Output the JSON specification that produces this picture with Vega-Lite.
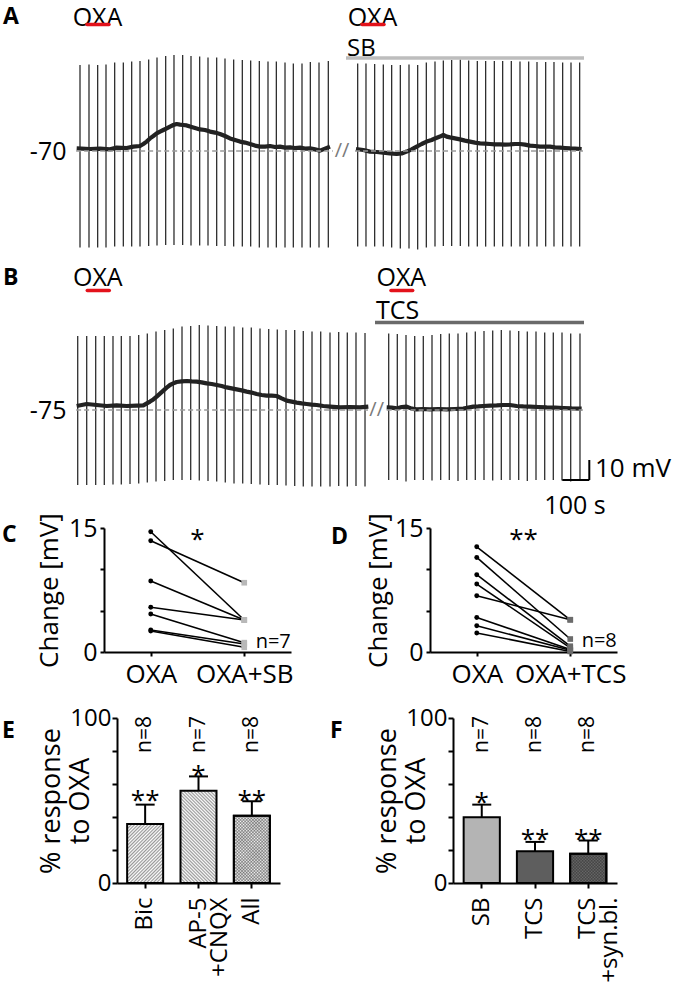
{
 "$schema": "https://vega.github.io/schema/vega-lite/v6.json",
 "padding": 0,
 "background": "white",
 "config": {
  "font": "Open Sans",
  "view": {"stroke": null},
  "axis": {"labelFont": "Open Sans", "titleFont": "Open Sans", "labelColor": "#000", "titleColor": "#000", "domainColor": "#000", "tickColor": "#000", "titleFontWeight": "normal", "grid": false, "labelFlush": false, "labelOverlap": false},
  "title": {"font": "Open Sans", "fontSize": 23, "fontWeight": "bold", "color": "#000", "anchor": "start", "frame": "group", "offset": 0},
  "text": {"font": "Open Sans", "color": "#000"}
 },
 "datasets": {
  "spkAL": [
   {"t": -3.7, "v": -118.2, "v2": -27.0}, {"t": 29.6, "v": -118.2, "v2": -26.7}, {"t": 61.7, "v": -118.2, "v2": -27.0}, {"t": 92.6, "v": -118.2, "v2": -26.7},
   {"t": 124.7, "v": -117.8, "v2": -25.8}, {"t": 156.8, "v": -117.8, "v2": -25.8}, {"t": 187.7, "v": -117.8, "v2": -25.3}, {"t": 218.5, "v": -117.8, "v2": -25.0},
   {"t": 250.6, "v": -117.5, "v2": -24.2}, {"t": 281.5, "v": -117.2, "v2": -23.2}, {"t": 313.6, "v": -117.0, "v2": -22.5}, {"t": 344.4, "v": -117.0, "v2": -22.0},
   {"t": 376.5, "v": -117.0, "v2": -22.0}, {"t": 407.4, "v": -117.2, "v2": -22.5}, {"t": 439.5, "v": -117.2, "v2": -22.8}, {"t": 470.4, "v": -117.3, "v2": -23.2},
   {"t": 502.5, "v": -117.5, "v2": -23.3}, {"t": 533.3, "v": -117.5, "v2": -23.7}, {"t": 565.4, "v": -117.8, "v2": -24.2}, {"t": 597.5, "v": -117.8, "v2": -24.5},
   {"t": 628.4, "v": -117.8, "v2": -24.8}, {"t": 660.5, "v": -118.2, "v2": -25.0}, {"t": 692.6, "v": -118.2, "v2": -25.3}, {"t": 723.5, "v": -118.2, "v2": -25.3},
   {"t": 755.6, "v": -118.2, "v2": -25.8}, {"t": 786.4, "v": -118.3, "v2": -26.2}, {"t": 818.5, "v": -118.3, "v2": -26.2}, {"t": 849.4, "v": -118.3, "v2": -25.5},
   {"t": 881.5, "v": -118.3, "v2": -25.8}, {"t": 916.0, "v": -118.3, "v2": -25.0}
  ],
  "spkAR": [
   {"t": 1024.7, "v": -117.8, "v2": -26.2}, {"t": 1055.5, "v": -117.8, "v2": -26.2}, {"t": 1087.6, "v": -117.8, "v2": -26.5}, {"t": 1119.7, "v": -117.8, "v2": -26.7},
   {"t": 1150.6, "v": -118.2, "v2": -27.0}, {"t": 1182.7, "v": -118.7, "v2": -27.0}, {"t": 1214.8, "v": -118.7, "v2": -26.7}, {"t": 1246.9, "v": -119.2, "v2": -27.0},
   {"t": 1279.0, "v": -118.2, "v2": -25.8}, {"t": 1311.1, "v": -117.8, "v2": -25.3}, {"t": 1342.0, "v": -117.5, "v2": -24.8}, {"t": 1372.8, "v": -117.5, "v2": -24.5},
   {"t": 1404.9, "v": -117.5, "v2": -24.2}, {"t": 1435.8, "v": -117.8, "v2": -24.8}, {"t": 1467.9, "v": -117.8, "v2": -25.0}, {"t": 1498.7, "v": -117.8, "v2": -25.0},
   {"t": 1530.9, "v": -117.8, "v2": -25.0}, {"t": 1561.7, "v": -117.8, "v2": -25.0}, {"t": 1593.8, "v": -117.8, "v2": -25.0}, {"t": 1625.9, "v": -117.8, "v2": -25.3},
   {"t": 1658.0, "v": -117.8, "v2": -25.3}, {"t": 1688.9, "v": -117.8, "v2": -25.5}, {"t": 1721.0, "v": -117.8, "v2": -25.5}, {"t": 1751.8, "v": -117.8, "v2": -25.5},
   {"t": 1783.9, "v": -117.8, "v2": -25.8}, {"t": 1814.8, "v": -117.8, "v2": -25.8}, {"t": 1846.9, "v": -117.8, "v2": -25.8}
  ],
  "spkBL": [
   {"t": -12.2, "v": -112.5, "v2": -38.0}, {"t": 21.1, "v": -112.5, "v2": -38.0}, {"t": 54.4, "v": -112.5, "v2": -38.0}, {"t": 86.3, "v": -112.5, "v2": -38.0},
   {"t": 118.5, "v": -112.3, "v2": -38.0}, {"t": 149.3, "v": -112.3, "v2": -38.0}, {"t": 181.5, "v": -112.0, "v2": -38.0}, {"t": 213.7, "v": -111.7, "v2": -37.5},
   {"t": 245.6, "v": -111.2, "v2": -36.7}, {"t": 277.8, "v": -110.8, "v2": -35.8}, {"t": 310.0, "v": -110.5, "v2": -35.0}, {"t": 341.9, "v": -110.0, "v2": -34.2},
   {"t": 374.1, "v": -110.0, "v2": -33.3}, {"t": 406.3, "v": -110.0, "v2": -33.0}, {"t": 438.1, "v": -110.2, "v2": -32.5}, {"t": 470.4, "v": -110.5, "v2": -32.7},
   {"t": 502.6, "v": -110.8, "v2": -33.0}, {"t": 534.4, "v": -111.2, "v2": -33.3}, {"t": 566.7, "v": -111.7, "v2": -33.3}, {"t": 598.9, "v": -111.7, "v2": -33.7},
   {"t": 630.7, "v": -112.0, "v2": -33.8}, {"t": 663.0, "v": -112.3, "v2": -34.2}, {"t": 695.2, "v": -112.5, "v2": -34.5}, {"t": 727.0, "v": -112.5, "v2": -34.7},
   {"t": 759.3, "v": -112.8, "v2": -35.0}, {"t": 791.5, "v": -113.0, "v2": -35.0}, {"t": 823.3, "v": -113.3, "v2": -35.5}, {"t": 855.6, "v": -113.3, "v2": -35.8},
   {"t": 887.8, "v": -113.3, "v2": -35.8}, {"t": 922.2, "v": -113.3, "v2": -36.2}, {"t": 954.4, "v": -113.0, "v2": -36.0}, {"t": 986.3, "v": -113.3, "v2": -36.2},
   {"t": 1018.5, "v": -113.0, "v2": -36.2}, {"t": 1051.9, "v": -113.3, "v2": -36.5}
  ],
  "spkBR": [
   {"t": 1139.6, "v": -110.0, "v2": -36.7}, {"t": 1171.5, "v": -110.0, "v2": -37.0}, {"t": 1203.7, "v": -110.8, "v2": -37.5}, {"t": 1235.9, "v": -110.0, "v2": -38.0},
   {"t": 1267.8, "v": -110.0, "v2": -38.0}, {"t": 1300.0, "v": -110.3, "v2": -37.5}, {"t": 1332.2, "v": -110.0, "v2": -37.0}, {"t": 1364.1, "v": -110.0, "v2": -36.7},
   {"t": 1396.3, "v": -110.5, "v2": -36.7}, {"t": 1428.5, "v": -110.0, "v2": -36.3}, {"t": 1460.4, "v": -110.0, "v2": -35.8}, {"t": 1492.6, "v": -110.0, "v2": -35.5},
   {"t": 1524.8, "v": -110.3, "v2": -35.3}, {"t": 1556.7, "v": -110.0, "v2": -35.0}, {"t": 1588.9, "v": -110.0, "v2": -35.3}, {"t": 1621.1, "v": -110.0, "v2": -35.5},
   {"t": 1653.0, "v": -110.5, "v2": -35.8}, {"t": 1685.2, "v": -110.0, "v2": -35.8}, {"t": 1717.4, "v": -110.0, "v2": -36.3}, {"t": 1749.3, "v": -110.0, "v2": -36.3},
   {"t": 1781.5, "v": -110.3, "v2": -36.3}, {"t": 1813.7, "v": -110.8, "v2": -36.7}, {"t": 1848.1, "v": -110.0, "v2": -36.7}
  ],
  "vmAL": [
   {"t": -16, "v": -68.7}, {"t": 33.3, "v": -69.0}, {"t": 70.4, "v": -68.8}, {"t": 107.4, "v": -69.2}, {"t": 132.1, "v": -68.3}, {"t": 169.1, "v": -68.5},
   {"t": 193.8, "v": -67.8}, {"t": 218.5, "v": -67.5}, {"t": 230.9, "v": -66.5}, {"t": 243.2, "v": -65.3}, {"t": 255.6, "v": -63.7}, {"t": 267.9, "v": -62.5},
   {"t": 280.2, "v": -61.2}, {"t": 292.6, "v": -60.3}, {"t": 304.9, "v": -59.5}, {"t": 317.3, "v": -58.7}, {"t": 329.6, "v": -57.8}, {"t": 341.9, "v": -57.0},
   {"t": 354.3, "v": -56.5}, {"t": 366.7, "v": -56.8}, {"t": 379.0, "v": -57.0}, {"t": 391.4, "v": -57.2}, {"t": 403.7, "v": -57.8}, {"t": 422.2, "v": -58.5},
   {"t": 440.7, "v": -59.2}, {"t": 459.3, "v": -59.5}, {"t": 477.8, "v": -60.3}, {"t": 496.3, "v": -60.8}, {"t": 514.8, "v": -61.5}, {"t": 533.3, "v": -62.5},
   {"t": 551.9, "v": -63.7}, {"t": 570.4, "v": -64.5}, {"t": 588.9, "v": -65.3}, {"t": 607.4, "v": -65.8}, {"t": 625.9, "v": -66.5}, {"t": 644.4, "v": -67.3},
   {"t": 663.0, "v": -67.8}, {"t": 681.5, "v": -67.8}, {"t": 700.0, "v": -67.5}, {"t": 718.5, "v": -68.0}, {"t": 737.0, "v": -67.8}, {"t": 755.6, "v": -68.3},
   {"t": 774.1, "v": -68.2}, {"t": 792.6, "v": -68.5}, {"t": 811.1, "v": -68.3}, {"t": 829.6, "v": -68.8}, {"t": 848.1, "v": -68.7}, {"t": 866.7, "v": -69.2},
   {"t": 885.2, "v": -69.8}, {"t": 903.7, "v": -68.8}, {"t": 922.2, "v": -67.8}
  ],
  "vmAR": [
   {"t": 1018.5, "v": -69.0}, {"t": 1045.7, "v": -69.5}, {"t": 1070.3, "v": -70.3}, {"t": 1095.1, "v": -70.5}, {"t": 1119.7, "v": -70.8}, {"t": 1144.4, "v": -71.2},
   {"t": 1169.1, "v": -71.5}, {"t": 1187.6, "v": -71.2}, {"t": 1206.2, "v": -70.3}, {"t": 1224.7, "v": -69.2}, {"t": 1243.2, "v": -67.8}, {"t": 1261.7, "v": -66.5},
   {"t": 1280.2, "v": -65.3}, {"t": 1298.7, "v": -64.5}, {"t": 1311.1, "v": -63.7}, {"t": 1329.6, "v": -62.8}, {"t": 1342.0, "v": -62.0}, {"t": 1354.3, "v": -62.8},
   {"t": 1366.7, "v": -63.2}, {"t": 1385.2, "v": -63.7}, {"t": 1403.7, "v": -64.2}, {"t": 1422.2, "v": -64.8}, {"t": 1440.7, "v": -65.3}, {"t": 1459.3, "v": -65.8},
   {"t": 1477.8, "v": -66.2}, {"t": 1496.3, "v": -66.3}, {"t": 1514.8, "v": -66.5}, {"t": 1533.3, "v": -66.7}, {"t": 1551.9, "v": -66.7}, {"t": 1570.4, "v": -66.8},
   {"t": 1588.9, "v": -66.7}, {"t": 1607.4, "v": -66.5}, {"t": 1625.9, "v": -66.5}, {"t": 1644.4, "v": -66.8}, {"t": 1662.9, "v": -67.3}, {"t": 1681.5, "v": -67.5},
   {"t": 1700.0, "v": -67.8}, {"t": 1718.5, "v": -67.8}, {"t": 1737.0, "v": -67.8}, {"t": 1755.5, "v": -68.2}, {"t": 1774.1, "v": -68.3}, {"t": 1792.6, "v": -68.5},
   {"t": 1811.1, "v": -68.7}, {"t": 1829.6, "v": -68.8}, {"t": 1854.3, "v": -69.0}
  ],
  "vmBL": [
   {"t": -16, "v": -73.0}, {"t": 21.0, "v": -72.0}, {"t": 58.0, "v": -72.5}, {"t": 95.1, "v": -73.0}, {"t": 132.1, "v": -72.7}, {"t": 169.1, "v": -73.0},
   {"t": 206.2, "v": -72.8}, {"t": 230.9, "v": -72.7}, {"t": 255.6, "v": -70.8}, {"t": 267.9, "v": -69.7}, {"t": 280.2, "v": -68.3}, {"t": 292.6, "v": -66.8},
   {"t": 304.9, "v": -65.3}, {"t": 317.3, "v": -63.8}, {"t": 329.6, "v": -62.5}, {"t": 341.9, "v": -61.7}, {"t": 354.3, "v": -61.0}, {"t": 372.8, "v": -60.7},
   {"t": 391.4, "v": -60.5}, {"t": 409.9, "v": -60.7}, {"t": 428.4, "v": -60.8}, {"t": 446.9, "v": -61.2}, {"t": 465.4, "v": -61.7}, {"t": 484.0, "v": -62.0},
   {"t": 502.5, "v": -62.5}, {"t": 521.0, "v": -63.0}, {"t": 539.5, "v": -63.7}, {"t": 558.0, "v": -64.2}, {"t": 576.5, "v": -64.7}, {"t": 595.1, "v": -65.2},
   {"t": 613.6, "v": -65.8}, {"t": 632.1, "v": -66.3}, {"t": 650.6, "v": -67.0}, {"t": 669.1, "v": -67.5}, {"t": 687.7, "v": -67.8}, {"t": 706.2, "v": -67.8},
   {"t": 724.7, "v": -68.0}, {"t": 743.2, "v": -69.2}, {"t": 761.7, "v": -70.3}, {"t": 780.2, "v": -70.8}, {"t": 798.8, "v": -71.3}, {"t": 817.3, "v": -71.7},
   {"t": 835.8, "v": -72.0}, {"t": 854.3, "v": -72.3}, {"t": 872.8, "v": -72.5}, {"t": 897.5, "v": -73.0}, {"t": 922.2, "v": -73.3}, {"t": 959.3, "v": -73.7},
   {"t": 996.3, "v": -73.5}, {"t": 1033.3, "v": -73.7}, {"t": 1064.2, "v": -73.3}
  ],
  "vmBR": [
   {"t": 1132.2, "v": -73.7}, {"t": 1150.6, "v": -73.8}, {"t": 1169.1, "v": -74.2}, {"t": 1187.6, "v": -73.5}, {"t": 1206.2, "v": -73.3}, {"t": 1224.7, "v": -74.3},
   {"t": 1243.2, "v": -74.7}, {"t": 1267.9, "v": -74.5}, {"t": 1292.6, "v": -74.7}, {"t": 1323.5, "v": -74.5}, {"t": 1354.3, "v": -74.7}, {"t": 1385.2, "v": -74.5},
   {"t": 1416.0, "v": -74.3}, {"t": 1434.6, "v": -73.8}, {"t": 1453.0, "v": -73.3}, {"t": 1471.6, "v": -73.2}, {"t": 1490.1, "v": -73.0}, {"t": 1514.8, "v": -72.8},
   {"t": 1539.5, "v": -72.7}, {"t": 1564.2, "v": -72.5}, {"t": 1588.9, "v": -72.5}, {"t": 1613.6, "v": -73.0}, {"t": 1638.3, "v": -73.2}, {"t": 1663.0, "v": -73.3},
   {"t": 1693.8, "v": -73.5}, {"t": 1724.7, "v": -73.7}, {"t": 1755.6, "v": -73.8}, {"t": 1786.4, "v": -74.0}, {"t": 1817.3, "v": -74.2}, {"t": 1854.3, "v": -74.3}
  ],
  "pairC": [
   {"id": 1, "x": 0, "v": 14.55}, {"id": 1, "x": 1, "v": 3.87},
   {"id": 2, "x": 0, "v": 13.46}, {"id": 2, "x": 1, "v": 8.38},
   {"id": 3, "x": 0, "v": 8.59}, {"id": 3, "x": 1, "v": 3.87},
   {"id": 4, "x": 0, "v": 5.41}, {"id": 4, "x": 1, "v": 3.87},
   {"id": 5, "x": 0, "v": 4.60}, {"id": 5, "x": 1, "v": 1.13},
   {"id": 6, "x": 0, "v": 2.66}, {"id": 6, "x": 1, "v": 0.97},
   {"id": 7, "x": 0, "v": 2.54}, {"id": 7, "x": 1, "v": 0.57}
  ],
  "pairD": [
   {"id": 1, "x": 0, "v": 12.73}, {"id": 1, "x": 1, "v": 3.9},
   {"id": 2, "x": 0, "v": 11.44}, {"id": 2, "x": 1, "v": 1.57},
   {"id": 3, "x": 0, "v": 9.35}, {"id": 3, "x": 1, "v": 0.7},
   {"id": 4, "x": 0, "v": 8.22}, {"id": 4, "x": 1, "v": 0.5},
   {"id": 5, "x": 0, "v": 6.81}, {"id": 5, "x": 1, "v": 3.9},
   {"id": 6, "x": 0, "v": 4.18}, {"id": 6, "x": 1, "v": 0.3},
   {"id": 7, "x": 0, "v": 3.18}, {"id": 7, "x": 1, "v": 0.2},
   {"id": 8, "x": 0, "v": 2.30}, {"id": 8, "x": 1, "v": 0.07}
  ],
  "barE": [
   {"cond": "Bic", "p": 35.8, "hi": 47.5},
   {"cond": "AP-5|+CNQX", "p": 55.9, "hi": 64.6},
   {"cond": "All", "p": 40.8, "hi": 49.5}
  ],
  "capE": [
   {"cond": "Bic", "p": 47.5}, {"cond": "AP-5|+CNQX", "p": 64.6}, {"cond": "All", "p": 49.5}
  ],
  "starE": [
   {"cond": "Bic", "p": 49.9, "star": "**"}, {"cond": "AP-5|+CNQX", "p": 65.0, "star": "*"}, {"cond": "All", "p": 49.9, "star": "**"}
  ],
  "nE": [
   {"cond": "Bic", "p": 90, "n": "n=8"}, {"cond": "AP-5|+CNQX", "p": 90, "n": "n=7"}, {"cond": "All", "p": 90, "n": "n=8"}
  ],
  "barF": [
   {"cond": "SB", "p": 39.8, "hi": 47.5},
   {"cond": "TCS", "p": 19.2, "hi": 24.9},
   {"cond": "TCS|+syn.bl.", "p": 17.8, "hi": 25.8}
  ],
  "capF": [
   {"cond": "SB", "p": 47.5}, {"cond": "TCS", "p": 24.9}, {"cond": "TCS|+syn.bl.", "p": 25.8}
  ],
  "starF": [
   {"cond": "SB", "p": 48.4, "star": "*"}, {"cond": "TCS", "p": 26.2, "star": "**"}, {"cond": "TCS|+syn.bl.", "p": 26.2, "star": "**"}
  ],
  "nF": [
   {"cond": "SB", "p": 90, "n": "n=7"}, {"cond": "TCS", "p": 90, "n": "n=8"}, {"cond": "TCS|+syn.bl.", "p": 90, "n": "n=8"}
  ]
 },
 "columns": 2,
 "spacing": {"row": 66, "column": 1},
 "bounds": "flush",
 "align": "each",
 "resolve": {"scale": {"fill": "independent", "color": "independent"}},
 "concat": [
  {
   "width": 333, "height": 230,
   "encoding": {
    "x": {"field": "t", "type": "quantitative", "scale": {"domain": [-300, 933.33], "nice": false, "zero": false}, "axis": null},
    "y": {"field": "v", "type": "quantitative", "scale": {"domain": [-109.5, 5.5], "nice": false, "zero": false},
          "axis": {"values": [-70], "labelExpr": "'-70'", "domain": false, "ticks": false, "labelFontSize": 25, "labelPadding": 11, "title": null, "offset": -77}}
   },
   "layer": [
    {"data": {"name": "spkAL"}, "mark": {"type": "rule", "color": "#2e2e2e", "strokeWidth": 1.3}, "encoding": {"y2": {"field": "v2"}}},
    {"data": {"name": "vmAL"}, "mark": {"type": "line", "color": "#222", "strokeWidth": 4.2, "strokeJoin": "round"}},
    {"data": {"values": [{"t": -18, "t2": 933, "v": -70}]}, "mark": {"type": "rule", "color": "#9a9a9a", "strokeWidth": 1.5, "strokeDash": [5, 3]}, "encoding": {"x2": {"field": "t2"}}},
    {"data": {"values": [{"t": 61, "v": -3.3, "label": "OXA"}]}, "mark": {"type": "text", "fontSize": 25, "baseline": "middle"}, "encoding": {"text": {"field": "label"}}},
    {"data": {"values": [{"t": -288.9, "v": -3.0, "label": "A"}]}, "mark": {"type": "text", "fontSize": 23, "fontWeight": "bold", "baseline": "middle", "align": "left"}, "encoding": {"text": {"field": "label"}}},
    {"data": {"values": [{"t": 22.2, "t2": 103.7, "v": -6.8}]}, "mark": {"type": "rule", "color": "#e3121b", "strokeWidth": 3.5, "strokeCap": "round"}, "encoding": {"x2": {"field": "t2"}}}
   ]
  },
  {
   "width": 256, "height": 230,
   "encoding": {
    "x": {"field": "t", "type": "quantitative", "scale": {"domain": [937.04, 1885.19], "nice": false, "zero": false}, "axis": null},
    "y": {"field": "v", "type": "quantitative", "scale": {"domain": [-109.5, 5.5], "nice": false, "zero": false}, "axis": null}
   },
   "layer": [
    {"data": {"name": "spkAR"}, "mark": {"type": "rule", "color": "#2e2e2e", "strokeWidth": 1.3}, "encoding": {"y2": {"field": "v2"}}},
    {"data": {"name": "vmAR"}, "mark": {"type": "line", "color": "#222", "strokeWidth": 4.2, "strokeJoin": "round"}},
    {"data": {"values": [{"t": 1014.8, "t2": 1859.3, "v": -70}]}, "mark": {"type": "rule", "color": "#9a9a9a", "strokeWidth": 1.5, "strokeDash": [5, 3]}, "encoding": {"x2": {"field": "t2"}}},
    {"data": {"values": [{"t": 966.7, "v": -70, "label": "//"}]}, "mark": {"type": "text", "fontSize": 20, "baseline": "middle", "color": "#7a7a7a"}, "encoding": {"text": {"field": "label"}}},
    {"data": {"values": [{"t": 1079.6, "v": -3.3, "label": "OXA"}]}, "mark": {"type": "text", "fontSize": 25, "baseline": "middle"}, "encoding": {"text": {"field": "label"}}},
    {"data": {"values": [{"t": 985.2, "v": -19.0, "label": "SB"}]}, "mark": {"type": "text", "fontSize": 24, "baseline": "middle", "align": "left"}, "encoding": {"text": {"field": "label"}}},
    {"data": {"values": [{"t": 1040.7, "t2": 1122.2, "v": -6.8}]}, "mark": {"type": "rule", "color": "#e3121b", "strokeWidth": 3.5, "strokeCap": "round"}, "encoding": {"x2": {"field": "t2"}}},
    {"data": {"values": [{"t": 981.5, "t2": 1863, "v": -23.5}]}, "mark": {"type": "rule", "color": "#bdbdbd", "strokeWidth": 3.5}, "encoding": {"x2": {"field": "t2"}}}
   ]
  },
  {
   "width": 333, "height": 166,
   "encoding": {
    "x": {"field": "t", "type": "quantitative", "scale": {"domain": [-300, 933.33], "nice": false, "zero": false}, "axis": null},
    "y": {"field": "v", "type": "quantitative", "scale": {"domain": [-101, -18], "nice": false, "zero": false},
          "axis": {"values": [-75], "labelExpr": "'-75'", "domain": false, "ticks": false, "labelFontSize": 25, "labelPadding": 11, "title": null, "offset": -77}}
   },
   "layer": [
    {"data": {"name": "spkBL"}, "mark": {"type": "rule", "color": "#2e2e2e", "strokeWidth": 1.3}, "encoding": {"y2": {"field": "v2"}}},
    {"data": {"name": "vmBL"}, "mark": {"type": "line", "color": "#222", "strokeWidth": 4.2, "strokeJoin": "round"}},
    {"data": {"values": [{"t": -18, "t2": 1063, "v": -75}]}, "mark": {"type": "rule", "color": "#9a9a9a", "strokeWidth": 1.5, "strokeDash": [5, 3]}, "encoding": {"x2": {"field": "t2"}}},
    {"data": {"values": [{"t": 62.2, "v": -9.2, "label": "OXA"}]}, "mark": {"type": "text", "fontSize": 25, "baseline": "middle"}, "encoding": {"text": {"field": "label"}}},
    {"data": {"values": [{"t": -288.9, "v": -9.15, "label": "B"}]}, "mark": {"type": "text", "fontSize": 23, "fontWeight": "bold", "baseline": "middle", "align": "left"}, "encoding": {"text": {"field": "label"}}},
    {"data": {"values": [{"t": 23.3, "t2": 104.8, "v": -15.3}]}, "mark": {"type": "rule", "color": "#e3121b", "strokeWidth": 3.5, "strokeCap": "round"}, "encoding": {"x2": {"field": "t2"}}}
   ]
  },
  {
   "width": 270, "height": 166,
   "encoding": {
    "x": {"field": "t", "type": "quantitative", "scale": {"domain": [937.04, 1937.04], "nice": false, "zero": false}, "axis": null},
    "y": {"field": "v", "type": "quantitative", "scale": {"domain": [-101, -18], "nice": false, "zero": false}, "axis": null}
   },
   "layer": [
    {"data": {"name": "spkBR"}, "mark": {"type": "rule", "color": "#2e2e2e", "strokeWidth": 1.3}, "encoding": {"y2": {"field": "v2"}}},
    {"data": {"name": "vmBR"}, "mark": {"type": "line", "color": "#222", "strokeWidth": 4.2, "strokeJoin": "round"}},
    {"data": {"values": [{"t": 1132, "t2": 1859, "v": -75}]}, "mark": {"type": "rule", "color": "#9a9a9a", "strokeWidth": 1.5, "strokeDash": [5, 3]}, "encoding": {"x2": {"field": "t2"}}},
    {"data": {"values": [{"t": 1095, "v": -75, "label": "//"}]}, "mark": {"type": "text", "fontSize": 20, "baseline": "middle", "color": "#7a7a7a"}, "encoding": {"text": {"field": "label"}}},
    {"data": {"values": [{"t": 1186.4, "v": -9.2, "label": "OXA"}]}, "mark": {"type": "text", "fontSize": 25, "baseline": "middle"}, "encoding": {"text": {"field": "label"}}},
    {"data": {"values": [{"t": 1092.6, "v": -25.7, "label": "TCS"}]}, "mark": {"type": "text", "fontSize": 25, "baseline": "middle", "align": "left"}, "encoding": {"text": {"field": "label"}}},
    {"data": {"values": [{"t": 1148, "t2": 1228.5, "v": -15.3}]}, "mark": {"type": "rule", "color": "#e3121b", "strokeWidth": 3.5, "strokeCap": "round"}, "encoding": {"x2": {"field": "t2"}}},
    {"data": {"values": [{"t": 1088.9, "t2": 1863, "v": -31.3}]}, "mark": {"type": "rule", "color": "#6a6a6a", "strokeWidth": 3.5}, "encoding": {"x2": {"field": "t2"}}},
    {"data": {"values": [{"t": 1882.6, "t2": 1882.6, "v": -100, "v2": -110}, {"t": 1782.6, "t2": 1882.6, "v": -110, "v2": -110}]}, "mark": {"type": "rule", "color": "#000", "strokeWidth": 2}, "encoding": {"x2": {"field": "t2"}, "y2": {"field": "v2"}}},
    {"data": {"values": [{"t": 1903.7, "v": -104.7, "label": "10 mV"}]}, "mark": {"type": "text", "fontSize": 26, "baseline": "middle", "align": "left"}, "encoding": {"text": {"field": "label"}}},
    {"data": {"values": [{"t": 1829.6, "v": -123.2, "label": "100 s"}]}, "mark": {"type": "text", "fontSize": 25, "baseline": "middle", "align": "center"}, "encoding": {"text": {"field": "label"}}}
   ]
  },
  {
   "width": 333, "height": 124,
   "data": {"name": "pairC"},
   "encoding": {
    "x": {"field": "x", "type": "quantitative", "scale": {"domain": [-0.5, 1.5], "range": [104, 291], "nice": false, "zero": false},
          "axis": {"values": [0, 1], "labelExpr": "datum.value == 0 ? 'OXA' : 'OXA+SB'", "title": null, "labelFontSize": 26, "tickSize": 4, "tickWidth": 2, "domainWidth": 2, "labelPadding": 5}},
    "y": {"field": "v", "type": "quantitative", "scale": {"domain": [0, 15], "nice": false},
          "axis": {"values": [0, 5, 10, 15], "labelExpr": "datum.value == 0 || datum.value == 15 ? datum.label : ''", "title": "Change [mV]", "titleFontSize": 26, "titlePadding": 6, "labelFontSize": 25, "tickSize": 4, "tickWidth": 2, "domainWidth": 2, "labelPadding": 3, "offset": -104}}
   },
   "layer": [
    {"mark": {"type": "line", "color": "#000", "strokeWidth": 1.6}, "encoding": {"detail": {"field": "id", "type": "nominal"}}},
    {"transform": [{"filter": "datum.x == 0"}], "mark": {"type": "circle", "color": "#000", "size": 24, "opacity": 1}},
    {"transform": [{"filter": "datum.x == 1"}], "mark": {"type": "square", "color": "#b8b8b8", "size": 32, "opacity": 1}},
    {"data": {"values": [{"x": 0.5, "v": 13.6, "label": "*"}]}, "mark": {"type": "text", "fontSize": 26, "baseline": "middle"}, "encoding": {"text": {"field": "label"}}},
    {"data": {"values": [{"x": 1.31, "v": 1.25, "label": "n=7"}]}, "mark": {"type": "text", "fontSize": 20, "baseline": "middle"}, "encoding": {"text": {"field": "label"}}},
    {"data": {"values": [{"x": -1.591, "v": 14.1, "label": "C"}]}, "mark": {"type": "text", "fontSize": 23, "fontWeight": "bold", "baseline": "middle", "align": "left"}, "encoding": {"text": {"field": "label"}}}
   ]
  },
  {
   "width": 283, "height": 124,
   "data": {"name": "pairD"},
   "encoding": {
    "x": {"field": "x", "type": "quantitative", "scale": {"domain": [-0.5, 1.5], "range": [96, 283], "nice": false, "zero": false},
          "axis": {"values": [0, 1], "labelExpr": "datum.value == 0 ? 'OXA' : 'OXA+TCS'", "title": null, "labelFontSize": 26, "tickSize": 4, "tickWidth": 2, "domainWidth": 2, "labelPadding": 5}},
    "y": {"field": "v", "type": "quantitative", "scale": {"domain": [0, 15], "nice": false},
          "axis": {"values": [0, 5, 10, 15], "labelExpr": "datum.value == 0 || datum.value == 15 ? datum.label : ''", "title": "Change [mV]", "titleFontSize": 26, "titlePadding": 3, "labelFontSize": 25, "tickSize": 4, "tickWidth": 2, "domainWidth": 2, "labelPadding": 3, "offset": -96}}
   },
   "layer": [
    {"mark": {"type": "line", "color": "#000", "strokeWidth": 1.6}, "encoding": {"detail": {"field": "id", "type": "nominal"}}},
    {"transform": [{"filter": "datum.x == 0"}], "mark": {"type": "circle", "color": "#000", "size": 24, "opacity": 1}},
    {"transform": [{"filter": "datum.x == 1"}], "mark": {"type": "square", "color": "#6b6b6b", "size": 32, "opacity": 1}},
    {"data": {"values": [{"x": 0.5, "v": 13.6, "label": "**"}]}, "mark": {"type": "text", "fontSize": 26, "baseline": "middle"}, "encoding": {"text": {"field": "label"}}},
    {"data": {"values": [{"x": 1.31, "v": 1.28, "label": "n=8"}]}, "mark": {"type": "text", "fontSize": 20, "baseline": "middle"}, "encoding": {"text": {"field": "label"}}},
    {"data": {"values": [{"x": -1.559, "v": 13.97, "label": "D"}]}, "mark": {"type": "text", "fontSize": 23, "fontWeight": "bold", "baseline": "middle", "align": "left"}, "encoding": {"text": {"field": "label"}}}
   ]
  },
  {
   "width": 333, "height": 165,
   "title": {"text": "E", "dx": 2, "dy": 41},
   "encoding": {
    "x": {"field": "cond", "type": "nominal", "sort": ["Bic", "AP-5|+CNQX", "All"], "scale": {"range": [117, 280], "paddingInner": 0.325, "paddingOuter": 0.19},
          "axis": {"title": null, "labelAngle": 270, "labelFontSize": 24, "labelExpr": "split(datum.label, '|')", "labelLineHeight": 21, "tickSize": 5, "tickWidth": 2, "domainWidth": 2, "labelPadding": 9}},
    "y": {"field": "p", "type": "quantitative", "scale": {"domain": [0, 100], "nice": false},
          "axis": {"values": [0, 20, 40, 60, 80, 100], "labelExpr": "datum.value == 0 || datum.value == 100 ? datum.label : ''", "title": ["% response", "to OXA"], "titleFontSize": 27, "titleLineHeight": 29, "titlePadding": -25, "labelFontSize": 24, "tickSize": 5, "tickWidth": 2, "domainWidth": 2, "labelPadding": 1, "offset": -117}}
   },
   "layer": [
    {"data": {"name": "barE"}, "transform": [{"filter": "datum.cond == 'Bic'"}],
     "mark": {"type": "bar", "stroke": "#000", "strokeWidth": 2,
      "fill": {"gradient": "linear", "x1": 0, "y1": 0, "x2": 0.7156, "y2": 1.1735, "stops": [
       {"offset": 0, "color": "#fff"}, {"offset": 0.0175, "color": "#999"}, {"offset": 0.035, "color": "#fff"}, {"offset": 0.0525, "color": "#999"}, {"offset": 0.07, "color": "#fff"}, {"offset": 0.0875, "color": "#999"},
       {"offset": 0.105, "color": "#fff"}, {"offset": 0.1225, "color": "#999"}, {"offset": 0.14, "color": "#fff"}, {"offset": 0.1575, "color": "#999"}, {"offset": 0.175, "color": "#fff"}, {"offset": 0.1925, "color": "#999"},
       {"offset": 0.21, "color": "#fff"}, {"offset": 0.2275, "color": "#999"}, {"offset": 0.245, "color": "#fff"}, {"offset": 0.2625, "color": "#999"}, {"offset": 0.28, "color": "#fff"}, {"offset": 0.2975, "color": "#999"},
       {"offset": 0.315, "color": "#fff"}, {"offset": 0.3325, "color": "#999"}, {"offset": 0.35, "color": "#fff"}, {"offset": 0.3675, "color": "#999"}, {"offset": 0.385, "color": "#fff"}, {"offset": 0.4025, "color": "#999"},
       {"offset": 0.42, "color": "#fff"}, {"offset": 0.4375, "color": "#999"}, {"offset": 0.455, "color": "#fff"}, {"offset": 0.4725, "color": "#999"}, {"offset": 0.49, "color": "#fff"}, {"offset": 0.5075, "color": "#999"},
       {"offset": 0.525, "color": "#fff"}, {"offset": 0.5425, "color": "#999"}, {"offset": 0.56, "color": "#fff"}, {"offset": 0.5775, "color": "#999"}, {"offset": 0.595, "color": "#fff"}, {"offset": 0.6125, "color": "#999"},
       {"offset": 0.63, "color": "#fff"}, {"offset": 0.6475, "color": "#999"}, {"offset": 0.665, "color": "#fff"}, {"offset": 0.6825, "color": "#999"}, {"offset": 0.7, "color": "#fff"}, {"offset": 0.7175, "color": "#999"},
       {"offset": 0.735, "color": "#fff"}, {"offset": 0.7525, "color": "#999"}, {"offset": 0.77, "color": "#fff"}, {"offset": 0.7875, "color": "#999"}, {"offset": 0.805, "color": "#fff"}, {"offset": 0.8225, "color": "#999"},
       {"offset": 0.84, "color": "#fff"}, {"offset": 0.8575, "color": "#999"}, {"offset": 0.875, "color": "#fff"}, {"offset": 0.8925, "color": "#999"}, {"offset": 0.91, "color": "#fff"}, {"offset": 0.9275, "color": "#999"},
       {"offset": 0.945, "color": "#fff"}, {"offset": 0.9625, "color": "#999"}, {"offset": 0.98, "color": "#fff"}, {"offset": 0.9975, "color": "#999"}
      ]}}},
    {"data": {"name": "barE"}, "transform": [{"filter": "datum.cond == 'AP-5|+CNQX'"}],
     "mark": {"type": "bar", "stroke": "#000", "strokeWidth": 2,
      "fill": {"gradient": "linear", "x1": 0, "y1": 1, "x2": 0.4711, "y2": -0.2065, "stops": [
       {"offset": 0, "color": "#fff"}, {"offset": 0.013, "color": "#999"}, {"offset": 0.026, "color": "#fff"}, {"offset": 0.039, "color": "#999"}, {"offset": 0.052, "color": "#fff"}, {"offset": 0.065, "color": "#999"},
       {"offset": 0.078, "color": "#fff"}, {"offset": 0.091, "color": "#999"}, {"offset": 0.104, "color": "#fff"}, {"offset": 0.117, "color": "#999"}, {"offset": 0.13, "color": "#fff"}, {"offset": 0.143, "color": "#999"},
       {"offset": 0.156, "color": "#fff"}, {"offset": 0.169, "color": "#999"}, {"offset": 0.182, "color": "#fff"}, {"offset": 0.195, "color": "#999"}, {"offset": 0.208, "color": "#fff"}, {"offset": 0.221, "color": "#999"},
       {"offset": 0.234, "color": "#fff"}, {"offset": 0.247, "color": "#999"}, {"offset": 0.26, "color": "#fff"}, {"offset": 0.273, "color": "#999"}, {"offset": 0.286, "color": "#fff"}, {"offset": 0.299, "color": "#999"},
       {"offset": 0.312, "color": "#fff"}, {"offset": 0.325, "color": "#999"}, {"offset": 0.338, "color": "#fff"}, {"offset": 0.351, "color": "#999"}, {"offset": 0.364, "color": "#fff"}, {"offset": 0.377, "color": "#999"},
       {"offset": 0.39, "color": "#fff"}, {"offset": 0.403, "color": "#999"}, {"offset": 0.416, "color": "#fff"}, {"offset": 0.429, "color": "#999"}, {"offset": 0.442, "color": "#fff"}, {"offset": 0.455, "color": "#999"},
       {"offset": 0.468, "color": "#fff"}, {"offset": 0.481, "color": "#999"}, {"offset": 0.494, "color": "#fff"}, {"offset": 0.507, "color": "#999"}, {"offset": 0.52, "color": "#fff"}, {"offset": 0.533, "color": "#999"},
       {"offset": 0.546, "color": "#fff"}, {"offset": 0.559, "color": "#999"}, {"offset": 0.572, "color": "#fff"}, {"offset": 0.585, "color": "#999"}, {"offset": 0.598, "color": "#fff"}, {"offset": 0.611, "color": "#999"},
       {"offset": 0.624, "color": "#fff"}, {"offset": 0.637, "color": "#999"}, {"offset": 0.65, "color": "#fff"}, {"offset": 0.663, "color": "#999"}, {"offset": 0.676, "color": "#fff"}, {"offset": 0.689, "color": "#999"},
       {"offset": 0.702, "color": "#fff"}, {"offset": 0.715, "color": "#999"}, {"offset": 0.728, "color": "#fff"}, {"offset": 0.741, "color": "#999"}, {"offset": 0.754, "color": "#fff"}, {"offset": 0.767, "color": "#999"},
       {"offset": 0.78, "color": "#fff"}, {"offset": 0.793, "color": "#999"}, {"offset": 0.806, "color": "#fff"}, {"offset": 0.819, "color": "#999"}, {"offset": 0.832, "color": "#fff"}, {"offset": 0.845, "color": "#999"},
       {"offset": 0.858, "color": "#fff"}, {"offset": 0.871, "color": "#999"}, {"offset": 0.884, "color": "#fff"}, {"offset": 0.897, "color": "#999"}, {"offset": 0.91, "color": "#fff"}, {"offset": 0.923, "color": "#999"},
       {"offset": 0.936, "color": "#fff"}, {"offset": 0.949, "color": "#999"}, {"offset": 0.962, "color": "#fff"}, {"offset": 0.975, "color": "#999"}, {"offset": 0.988, "color": "#fff"}
      ]}}},
    {"data": {"name": "barE"}, "transform": [{"filter": "datum.cond == 'All'"}], "mark": {"type": "bar", "fill": "#ffffff", "stroke": "#000", "strokeWidth": 2}},
    {"data": {"name": "barE"}, "transform": [{"filter": "datum.cond == 'All'"}],
     "mark": {"type": "bar", "strokeWidth": 0,
      "fill": {"gradient": "linear", "x1": 0, "y1": 0, "x2": 0.6385, "y2": 1.1934, "stops": [
       {"offset": 0, "color": "rgba(40,40,40,0)"}, {"offset": 0.015, "color": "rgba(40,40,40,0.42)"}, {"offset": 0.03, "color": "rgba(40,40,40,0)"}, {"offset": 0.045, "color": "rgba(40,40,40,0.42)"}, {"offset": 0.06, "color": "rgba(40,40,40,0)"}, {"offset": 0.075, "color": "rgba(40,40,40,0.42)"},
       {"offset": 0.09, "color": "rgba(40,40,40,0)"}, {"offset": 0.105, "color": "rgba(40,40,40,0.42)"}, {"offset": 0.12, "color": "rgba(40,40,40,0)"}, {"offset": 0.135, "color": "rgba(40,40,40,0.42)"}, {"offset": 0.15, "color": "rgba(40,40,40,0)"}, {"offset": 0.165, "color": "rgba(40,40,40,0.42)"},
       {"offset": 0.18, "color": "rgba(40,40,40,0)"}, {"offset": 0.195, "color": "rgba(40,40,40,0.42)"}, {"offset": 0.21, "color": "rgba(40,40,40,0)"}, {"offset": 0.225, "color": "rgba(40,40,40,0.42)"}, {"offset": 0.24, "color": "rgba(40,40,40,0)"}, {"offset": 0.255, "color": "rgba(40,40,40,0.42)"},
       {"offset": 0.27, "color": "rgba(40,40,40,0)"}, {"offset": 0.285, "color": "rgba(40,40,40,0.42)"}, {"offset": 0.3, "color": "rgba(40,40,40,0)"}, {"offset": 0.315, "color": "rgba(40,40,40,0.42)"}, {"offset": 0.33, "color": "rgba(40,40,40,0)"}, {"offset": 0.345, "color": "rgba(40,40,40,0.42)"},
       {"offset": 0.36, "color": "rgba(40,40,40,0)"}, {"offset": 0.375, "color": "rgba(40,40,40,0.42)"}, {"offset": 0.39, "color": "rgba(40,40,40,0)"}, {"offset": 0.405, "color": "rgba(40,40,40,0.42)"}, {"offset": 0.42, "color": "rgba(40,40,40,0)"}, {"offset": 0.435, "color": "rgba(40,40,40,0.42)"},
       {"offset": 0.45, "color": "rgba(40,40,40,0)"}, {"offset": 0.465, "color": "rgba(40,40,40,0.42)"}, {"offset": 0.48, "color": "rgba(40,40,40,0)"}, {"offset": 0.495, "color": "rgba(40,40,40,0.42)"}, {"offset": 0.51, "color": "rgba(40,40,40,0)"}, {"offset": 0.525, "color": "rgba(40,40,40,0.42)"},
       {"offset": 0.54, "color": "rgba(40,40,40,0)"}, {"offset": 0.555, "color": "rgba(40,40,40,0.42)"}, {"offset": 0.57, "color": "rgba(40,40,40,0)"}, {"offset": 0.585, "color": "rgba(40,40,40,0.42)"}, {"offset": 0.6, "color": "rgba(40,40,40,0)"}, {"offset": 0.615, "color": "rgba(40,40,40,0.42)"},
       {"offset": 0.63, "color": "rgba(40,40,40,0)"}, {"offset": 0.645, "color": "rgba(40,40,40,0.42)"}, {"offset": 0.66, "color": "rgba(40,40,40,0)"}, {"offset": 0.675, "color": "rgba(40,40,40,0.42)"}, {"offset": 0.69, "color": "rgba(40,40,40,0)"}, {"offset": 0.705, "color": "rgba(40,40,40,0.42)"},
       {"offset": 0.72, "color": "rgba(40,40,40,0)"}, {"offset": 0.735, "color": "rgba(40,40,40,0.42)"}, {"offset": 0.75, "color": "rgba(40,40,40,0)"}, {"offset": 0.765, "color": "rgba(40,40,40,0.42)"}, {"offset": 0.78, "color": "rgba(40,40,40,0)"}, {"offset": 0.795, "color": "rgba(40,40,40,0.42)"},
       {"offset": 0.81, "color": "rgba(40,40,40,0)"}, {"offset": 0.825, "color": "rgba(40,40,40,0.42)"}, {"offset": 0.84, "color": "rgba(40,40,40,0)"}, {"offset": 0.855, "color": "rgba(40,40,40,0.42)"}, {"offset": 0.87, "color": "rgba(40,40,40,0)"}, {"offset": 0.885, "color": "rgba(40,40,40,0.42)"},
       {"offset": 0.9, "color": "rgba(40,40,40,0)"}, {"offset": 0.915, "color": "rgba(40,40,40,0.42)"}, {"offset": 0.93, "color": "rgba(40,40,40,0)"}, {"offset": 0.945, "color": "rgba(40,40,40,0.42)"}, {"offset": 0.96, "color": "rgba(40,40,40,0)"}, {"offset": 0.975, "color": "rgba(40,40,40,0.42)"},
       {"offset": 0.99, "color": "rgba(40,40,40,0)"}
      ]}}},
    {"data": {"name": "barE"}, "transform": [{"filter": "datum.cond == 'All'"}],
     "mark": {"type": "bar", "strokeWidth": 0,
      "fill": {"gradient": "linear", "x1": 0, "y1": 1, "x2": 0.6385, "y2": -0.1934, "stops": [
       {"offset": 0, "color": "rgba(40,40,40,0)"}, {"offset": 0.015, "color": "rgba(40,40,40,0.42)"}, {"offset": 0.03, "color": "rgba(40,40,40,0)"}, {"offset": 0.045, "color": "rgba(40,40,40,0.42)"}, {"offset": 0.06, "color": "rgba(40,40,40,0)"}, {"offset": 0.075, "color": "rgba(40,40,40,0.42)"},
       {"offset": 0.09, "color": "rgba(40,40,40,0)"}, {"offset": 0.105, "color": "rgba(40,40,40,0.42)"}, {"offset": 0.12, "color": "rgba(40,40,40,0)"}, {"offset": 0.135, "color": "rgba(40,40,40,0.42)"}, {"offset": 0.15, "color": "rgba(40,40,40,0)"}, {"offset": 0.165, "color": "rgba(40,40,40,0.42)"},
       {"offset": 0.18, "color": "rgba(40,40,40,0)"}, {"offset": 0.195, "color": "rgba(40,40,40,0.42)"}, {"offset": 0.21, "color": "rgba(40,40,40,0)"}, {"offset": 0.225, "color": "rgba(40,40,40,0.42)"}, {"offset": 0.24, "color": "rgba(40,40,40,0)"}, {"offset": 0.255, "color": "rgba(40,40,40,0.42)"},
       {"offset": 0.27, "color": "rgba(40,40,40,0)"}, {"offset": 0.285, "color": "rgba(40,40,40,0.42)"}, {"offset": 0.3, "color": "rgba(40,40,40,0)"}, {"offset": 0.315, "color": "rgba(40,40,40,0.42)"}, {"offset": 0.33, "color": "rgba(40,40,40,0)"}, {"offset": 0.345, "color": "rgba(40,40,40,0.42)"},
       {"offset": 0.36, "color": "rgba(40,40,40,0)"}, {"offset": 0.375, "color": "rgba(40,40,40,0.42)"}, {"offset": 0.39, "color": "rgba(40,40,40,0)"}, {"offset": 0.405, "color": "rgba(40,40,40,0.42)"}, {"offset": 0.42, "color": "rgba(40,40,40,0)"}, {"offset": 0.435, "color": "rgba(40,40,40,0.42)"},
       {"offset": 0.45, "color": "rgba(40,40,40,0)"}, {"offset": 0.465, "color": "rgba(40,40,40,0.42)"}, {"offset": 0.48, "color": "rgba(40,40,40,0)"}, {"offset": 0.495, "color": "rgba(40,40,40,0.42)"}, {"offset": 0.51, "color": "rgba(40,40,40,0)"}, {"offset": 0.525, "color": "rgba(40,40,40,0.42)"},
       {"offset": 0.54, "color": "rgba(40,40,40,0)"}, {"offset": 0.555, "color": "rgba(40,40,40,0.42)"}, {"offset": 0.57, "color": "rgba(40,40,40,0)"}, {"offset": 0.585, "color": "rgba(40,40,40,0.42)"}, {"offset": 0.6, "color": "rgba(40,40,40,0)"}, {"offset": 0.615, "color": "rgba(40,40,40,0.42)"},
       {"offset": 0.63, "color": "rgba(40,40,40,0)"}, {"offset": 0.645, "color": "rgba(40,40,40,0.42)"}, {"offset": 0.66, "color": "rgba(40,40,40,0)"}, {"offset": 0.675, "color": "rgba(40,40,40,0.42)"}, {"offset": 0.69, "color": "rgba(40,40,40,0)"}, {"offset": 0.705, "color": "rgba(40,40,40,0.42)"},
       {"offset": 0.72, "color": "rgba(40,40,40,0)"}, {"offset": 0.735, "color": "rgba(40,40,40,0.42)"}, {"offset": 0.75, "color": "rgba(40,40,40,0)"}, {"offset": 0.765, "color": "rgba(40,40,40,0.42)"}, {"offset": 0.78, "color": "rgba(40,40,40,0)"}, {"offset": 0.795, "color": "rgba(40,40,40,0.42)"},
       {"offset": 0.81, "color": "rgba(40,40,40,0)"}, {"offset": 0.825, "color": "rgba(40,40,40,0.42)"}, {"offset": 0.84, "color": "rgba(40,40,40,0)"}, {"offset": 0.855, "color": "rgba(40,40,40,0.42)"}, {"offset": 0.87, "color": "rgba(40,40,40,0)"}, {"offset": 0.885, "color": "rgba(40,40,40,0.42)"},
       {"offset": 0.9, "color": "rgba(40,40,40,0)"}, {"offset": 0.915, "color": "rgba(40,40,40,0.42)"}, {"offset": 0.93, "color": "rgba(40,40,40,0)"}, {"offset": 0.945, "color": "rgba(40,40,40,0.42)"}, {"offset": 0.96, "color": "rgba(40,40,40,0)"}, {"offset": 0.975, "color": "rgba(40,40,40,0.42)"},
       {"offset": 0.99, "color": "rgba(40,40,40,0)"}
      ]}}},
    {"data": {"name": "barE"}, "transform": [{"filter": "datum.cond == 'All'"}], "mark": {"type": "bar", "fill": "#ffffff", "fillOpacity": 0, "stroke": "#000", "strokeWidth": 2}},
    {"data": {"name": "barE"}, "mark": {"type": "rule", "strokeWidth": 2, "color": "#000"}, "encoding": {"y2": {"field": "hi"}}},
    {"data": {"name": "capE"}, "mark": {"type": "tick", "thickness": 2, "size": 19, "color": "#000", "opacity": 1}},
    {"data": {"name": "starE"}, "mark": {"type": "text", "fontSize": 26, "baseline": "middle"}, "encoding": {"text": {"field": "star"}}},
    {"data": {"name": "nE"}, "mark": {"type": "text", "fontSize": 21, "baseline": "middle", "angle": 270}, "encoding": {"text": {"field": "n"}}}
   ]
  },
  {
   "width": 283, "height": 165,
   "title": {"text": "F", "dx": -4, "dy": 41},
   "encoding": {
    "x": {"field": "cond", "type": "nominal", "sort": ["SB", "TCS", "TCS|+syn.bl."], "scale": {"range": [119, 283], "paddingInner": 0.32, "paddingOuter": 0.2},
          "axis": {"title": null, "labelAngle": 270, "labelFontSize": 24, "labelExpr": "split(datum.label, '|')", "labelLineHeight": 22, "tickSize": 5, "tickWidth": 2, "domainWidth": 2, "labelPadding": 9}},
    "y": {"field": "p", "type": "quantitative", "scale": {"domain": [0, 100], "nice": false},
          "axis": {"values": [0, 20, 40, 60, 80, 100], "labelExpr": "datum.value == 0 || datum.value == 100 ? datum.label : ''", "title": ["% response", "to OXA"], "titleFontSize": 27, "titleLineHeight": 29, "titlePadding": -25, "labelFontSize": 24, "tickSize": 5, "tickWidth": 2, "domainWidth": 2, "labelPadding": 1, "offset": -119}}
   },
   "layer": [
    {"data": {"name": "barF"}, "transform": [{"filter": "datum.cond != 'TCS|+syn.bl.'"}], "mark": {"type": "bar", "stroke": "#000", "strokeWidth": 2}, "encoding": {"fill": {"field": "cond", "type": "nominal", "scale": {"domain": ["SB", "TCS"], "range": ["#b4b4b4", "#5e5e5e"]}, "legend": null}}},
    {"data": {"name": "barF"}, "transform": [{"filter": "datum.cond == 'TCS|+syn.bl.'"}], "mark": {"type": "bar", "fill": "#6e6e6e", "stroke": "#000", "strokeWidth": 2}},
    {"data": {"name": "barF"}, "transform": [{"filter": "datum.cond == 'TCS|+syn.bl.'"}],
     "mark": {"type": "bar", "strokeWidth": 0,
      "fill": {"gradient": "linear", "x1": 0, "y1": 0, "x2": 1.092, "y2": 0.887, "stops": [
       {"offset": 0, "color": "rgba(20,20,20,0)"}, {"offset": 0.023, "color": "rgba(20,20,20,0.32)"}, {"offset": 0.046, "color": "rgba(20,20,20,0)"}, {"offset": 0.069, "color": "rgba(20,20,20,0.32)"},
       {"offset": 0.092, "color": "rgba(20,20,20,0)"}, {"offset": 0.115, "color": "rgba(20,20,20,0.32)"}, {"offset": 0.138, "color": "rgba(20,20,20,0)"}, {"offset": 0.161, "color": "rgba(20,20,20,0.32)"},
       {"offset": 0.184, "color": "rgba(20,20,20,0)"}, {"offset": 0.207, "color": "rgba(20,20,20,0.32)"}, {"offset": 0.23, "color": "rgba(20,20,20,0)"}, {"offset": 0.253, "color": "rgba(20,20,20,0.32)"},
       {"offset": 0.276, "color": "rgba(20,20,20,0)"}, {"offset": 0.299, "color": "rgba(20,20,20,0.32)"}, {"offset": 0.322, "color": "rgba(20,20,20,0)"}, {"offset": 0.345, "color": "rgba(20,20,20,0.32)"},
       {"offset": 0.368, "color": "rgba(20,20,20,0)"}, {"offset": 0.391, "color": "rgba(20,20,20,0.32)"}, {"offset": 0.414, "color": "rgba(20,20,20,0)"}, {"offset": 0.437, "color": "rgba(20,20,20,0.32)"},
       {"offset": 0.46, "color": "rgba(20,20,20,0)"}, {"offset": 0.483, "color": "rgba(20,20,20,0.32)"}, {"offset": 0.506, "color": "rgba(20,20,20,0)"}, {"offset": 0.529, "color": "rgba(20,20,20,0.32)"},
       {"offset": 0.552, "color": "rgba(20,20,20,0)"}, {"offset": 0.575, "color": "rgba(20,20,20,0.32)"}, {"offset": 0.598, "color": "rgba(20,20,20,0)"}, {"offset": 0.621, "color": "rgba(20,20,20,0.32)"},
       {"offset": 0.644, "color": "rgba(20,20,20,0)"}, {"offset": 0.667, "color": "rgba(20,20,20,0.32)"}, {"offset": 0.69, "color": "rgba(20,20,20,0)"}, {"offset": 0.713, "color": "rgba(20,20,20,0.32)"},
       {"offset": 0.736, "color": "rgba(20,20,20,0)"}, {"offset": 0.759, "color": "rgba(20,20,20,0.32)"}, {"offset": 0.782, "color": "rgba(20,20,20,0)"}, {"offset": 0.805, "color": "rgba(20,20,20,0.32)"},
       {"offset": 0.828, "color": "rgba(20,20,20,0)"}, {"offset": 0.851, "color": "rgba(20,20,20,0.32)"}, {"offset": 0.874, "color": "rgba(20,20,20,0)"}, {"offset": 0.897, "color": "rgba(20,20,20,0.32)"},
       {"offset": 0.92, "color": "rgba(20,20,20,0)"}, {"offset": 0.943, "color": "rgba(20,20,20,0.32)"}, {"offset": 0.966, "color": "rgba(20,20,20,0)"}, {"offset": 0.989, "color": "rgba(20,20,20,0.32)"}
      ]}}},
    {"data": {"name": "barF"}, "transform": [{"filter": "datum.cond == 'TCS|+syn.bl.'"}],
     "mark": {"type": "bar", "strokeWidth": 0,
      "fill": {"gradient": "linear", "x1": 0, "y1": 1, "x2": 1.092, "y2": 0.113, "stops": [
       {"offset": 0, "color": "rgba(20,20,20,0)"}, {"offset": 0.023, "color": "rgba(20,20,20,0.32)"}, {"offset": 0.046, "color": "rgba(20,20,20,0)"}, {"offset": 0.069, "color": "rgba(20,20,20,0.32)"},
       {"offset": 0.092, "color": "rgba(20,20,20,0)"}, {"offset": 0.115, "color": "rgba(20,20,20,0.32)"}, {"offset": 0.138, "color": "rgba(20,20,20,0)"}, {"offset": 0.161, "color": "rgba(20,20,20,0.32)"},
       {"offset": 0.184, "color": "rgba(20,20,20,0)"}, {"offset": 0.207, "color": "rgba(20,20,20,0.32)"}, {"offset": 0.23, "color": "rgba(20,20,20,0)"}, {"offset": 0.253, "color": "rgba(20,20,20,0.32)"},
       {"offset": 0.276, "color": "rgba(20,20,20,0)"}, {"offset": 0.299, "color": "rgba(20,20,20,0.32)"}, {"offset": 0.322, "color": "rgba(20,20,20,0)"}, {"offset": 0.345, "color": "rgba(20,20,20,0.32)"},
       {"offset": 0.368, "color": "rgba(20,20,20,0)"}, {"offset": 0.391, "color": "rgba(20,20,20,0.32)"}, {"offset": 0.414, "color": "rgba(20,20,20,0)"}, {"offset": 0.437, "color": "rgba(20,20,20,0.32)"},
       {"offset": 0.46, "color": "rgba(20,20,20,0)"}, {"offset": 0.483, "color": "rgba(20,20,20,0.32)"}, {"offset": 0.506, "color": "rgba(20,20,20,0)"}, {"offset": 0.529, "color": "rgba(20,20,20,0.32)"},
       {"offset": 0.552, "color": "rgba(20,20,20,0)"}, {"offset": 0.575, "color": "rgba(20,20,20,0.32)"}, {"offset": 0.598, "color": "rgba(20,20,20,0)"}, {"offset": 0.621, "color": "rgba(20,20,20,0.32)"},
       {"offset": 0.644, "color": "rgba(20,20,20,0)"}, {"offset": 0.667, "color": "rgba(20,20,20,0.32)"}, {"offset": 0.69, "color": "rgba(20,20,20,0)"}, {"offset": 0.713, "color": "rgba(20,20,20,0.32)"},
       {"offset": 0.736, "color": "rgba(20,20,20,0)"}, {"offset": 0.759, "color": "rgba(20,20,20,0.32)"}, {"offset": 0.782, "color": "rgba(20,20,20,0)"}, {"offset": 0.805, "color": "rgba(20,20,20,0.32)"},
       {"offset": 0.828, "color": "rgba(20,20,20,0)"}, {"offset": 0.851, "color": "rgba(20,20,20,0.32)"}, {"offset": 0.874, "color": "rgba(20,20,20,0)"}, {"offset": 0.897, "color": "rgba(20,20,20,0.32)"},
       {"offset": 0.92, "color": "rgba(20,20,20,0)"}, {"offset": 0.943, "color": "rgba(20,20,20,0.32)"}, {"offset": 0.966, "color": "rgba(20,20,20,0)"}, {"offset": 0.989, "color": "rgba(20,20,20,0.32)"}
      ]}}},
    {"data": {"name": "barF"}, "transform": [{"filter": "datum.cond == 'TCS|+syn.bl.'"}], "mark": {"type": "bar", "fill": "#ffffff", "fillOpacity": 0, "stroke": "#000", "strokeWidth": 2}},
    {"data": {"name": "barF"}, "mark": {"type": "rule", "strokeWidth": 2, "color": "#000"}, "encoding": {"y2": {"field": "hi"}}},
    {"data": {"name": "capF"}, "mark": {"type": "tick", "thickness": 2, "size": 19, "color": "#000", "opacity": 1}},
    {"data": {"name": "starF"}, "mark": {"type": "text", "fontSize": 26, "baseline": "middle"}, "encoding": {"text": {"field": "star"}}},
    {"data": {"name": "nF"}, "mark": {"type": "text", "fontSize": 21, "baseline": "middle", "angle": 270}, "encoding": {"text": {"field": "n"}}}
   ]
  }
 ]
}
